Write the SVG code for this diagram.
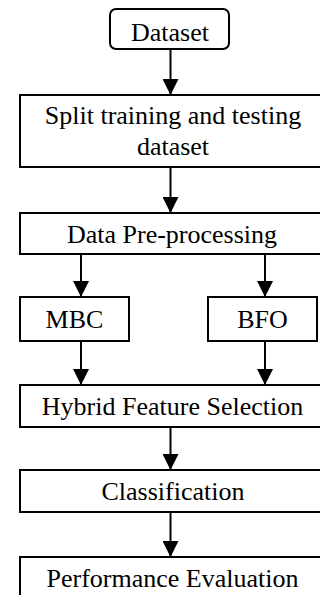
<svg xmlns="http://www.w3.org/2000/svg" width="320" height="595" viewBox="0 0 320 595">
<style>
.box{fill:#fff;stroke:#000;stroke-width:2}
.t{font-size:26px;fill:#000;text-anchor:middle}
.c{stroke:#000;stroke-width:2;fill:none;marker-end:url(#ah)}
</style>
<defs>
<marker id="ah" viewBox="0 0 16 16" refX="16" refY="8" markerWidth="16" markerHeight="16" markerUnits="userSpaceOnUse" orient="auto">
<path d="M0,0 L16,8 L0,16 Z" fill="#000"/>
</marker>
</defs>
<rect width="320" height="595" fill="#fff"/>
<g id="connectors">
<line class="c" x1="170.5" y1="49" x2="170.5" y2="95"/>
<line class="c" x1="170.5" y1="167" x2="170.5" y2="213"/>
<line class="c" x1="81" y1="254" x2="81" y2="297"/>
<line class="c" x1="265" y1="254" x2="265" y2="297"/>
<line class="c" x1="81" y1="341" x2="81" y2="385"/>
<line class="c" x1="265" y1="341" x2="265" y2="385"/>
<line class="c" x1="170.5" y1="427" x2="170.5" y2="470"/>
<line class="c" x1="170.5" y1="512" x2="170.5" y2="557"/>
</g>
<g font-family="'Liberation Serif', 'Times New Roman', 'DejaVu Serif', serif">
<g id="dataset">
<rect class="box" x="110" y="9" width="119" height="40" rx="6"/>
<text class="t" x="170" y="41">Dataset</text>
</g>
<g id="split">
<rect class="box" x="20" y="95" width="305" height="72"/>
<text class="t" x="173" y="124">Split training and testing</text>
<text class="t" x="173" y="155">dataset</text>
</g>
<g id="preprocessing">
<rect class="box" x="20" y="213" width="305" height="41"/>
<text class="t" x="172" y="243">Data Pre-processing</text>
</g>
<g id="mbc">
<rect class="box" x="20" y="297" width="109" height="44"/>
<text class="t" x="74.5" y="328">MBC</text>
</g>
<g id="bfo">
<rect class="box" x="208" y="297" width="109" height="44"/>
<text class="t" x="262.5" y="328">BFO</text>
</g>
<g id="hybrid">
<rect class="box" x="20" y="385" width="305" height="42"/>
<text class="t" x="172.5" y="415">Hybrid Feature Selection</text>
</g>
<g id="classification">
<rect class="box" x="20" y="470" width="305" height="42"/>
<text class="t" x="173" y="500">Classification</text>
</g>
<g id="performance">
<rect class="box" x="20" y="557" width="305" height="50"/>
<text class="t" x="172.5" y="587">Performance Evaluation</text>
</g>
</g>
</svg>
